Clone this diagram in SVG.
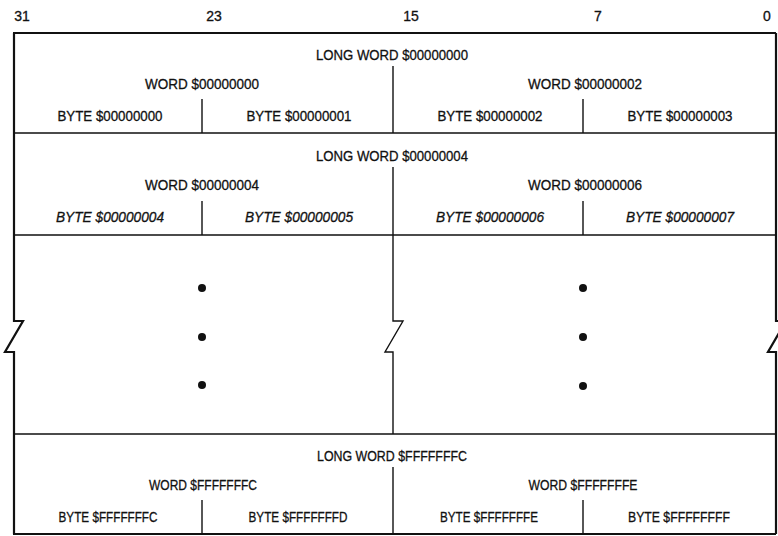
<svg xmlns="http://www.w3.org/2000/svg" width="778" height="536" viewBox="0 0 778 536">
<style>
.t{font-family:"Liberation Sans","Arial",sans-serif;font-size:15px;fill:#111;stroke:#111;stroke-width:0.3;text-anchor:middle}
.i{font-style:italic}
.n{font-family:"Liberation Sans","Arial",sans-serif;font-size:14px;fill:#111;stroke:#111;stroke-width:0.3;text-anchor:middle}
.ln{stroke:#111;stroke-width:1.4;fill:none}
.ob{stroke:#111;stroke-width:2.2;fill:none;stroke-linejoin:miter}
.dot{fill:#111}
</style>
<rect width="778" height="536" fill="#fff"/>
<g id="bit-numbers">
<text class="n" x="22" y="21">31</text>
<text class="n" x="214" y="21">23</text>
<text class="n" x="411" y="21">15</text>
<text class="n" x="598" y="21">7</text>
<text class="n" x="767" y="21">0</text>
</g>
<g id="connectors">
<path class="ob" d="M13,33 H776"/>
<path class="ob" d="M13,534 H776"/>
<path class="ob" d="M14,33 V321 H23 L5,352 H14 V534"/>
<path class="ob" d="M776,33 V321 H786 L768,352 H776 V534"/>
<path class="ln" d="M14,133 H776 M14,235 H776 M14,434 H776"/>
<path class="ln" d="M393,66 V133 M393,167 V321 H403 L385,352 H393 V434 M393,467 V534"/>
<path class="ln" d="M202,99 V133 M583,99 V133 M202,201 V235 M583,201 V235 M202,500 V534 M583,500 V534"/>
</g>
<g id="longword-0"><text class="t" x="392" y="60" textLength="152" lengthAdjust="spacingAndGlyphs">LONG WORD $00000000</text></g>
<g id="word-0"><text class="t" x="202" y="89" textLength="114" lengthAdjust="spacingAndGlyphs">WORD $00000000</text></g>
<g id="word-2"><text class="t" x="585" y="89" textLength="114" lengthAdjust="spacingAndGlyphs">WORD $00000002</text></g>
<g id="byte-0"><text class="t" x="110" y="121" textLength="105" lengthAdjust="spacingAndGlyphs">BYTE $00000000</text></g>
<g id="byte-1"><text class="t" x="299" y="121" textLength="105" lengthAdjust="spacingAndGlyphs">BYTE $00000001</text></g>
<g id="byte-2"><text class="t" x="490" y="121" textLength="105" lengthAdjust="spacingAndGlyphs">BYTE $00000002</text></g>
<g id="byte-3"><text class="t" x="680" y="121" textLength="105" lengthAdjust="spacingAndGlyphs">BYTE $00000003</text></g>
<g id="longword-4"><text class="t" x="392" y="161" textLength="152" lengthAdjust="spacingAndGlyphs">LONG WORD $00000004</text></g>
<g id="word-4"><text class="t" x="202" y="190" textLength="114" lengthAdjust="spacingAndGlyphs">WORD $00000004</text></g>
<g id="word-6"><text class="t" x="585" y="190" textLength="114" lengthAdjust="spacingAndGlyphs">WORD $00000006</text></g>
<g id="byte-4"><text class="t i" x="110" y="222" textLength="108" lengthAdjust="spacingAndGlyphs">BYTE $00000004</text></g>
<g id="byte-5"><text class="t i" x="299" y="222" textLength="108" lengthAdjust="spacingAndGlyphs">BYTE $00000005</text></g>
<g id="byte-6"><text class="t i" x="490" y="222" textLength="108" lengthAdjust="spacingAndGlyphs">BYTE $00000006</text></g>
<g id="byte-7"><text class="t i" x="680" y="222" textLength="108" lengthAdjust="spacingAndGlyphs">BYTE $00000007</text></g>
<g id="ellipsis">
<circle class="dot" cx="202" cy="288" r="4"/><circle class="dot" cx="202" cy="337" r="4"/><circle class="dot" cx="202" cy="385" r="4"/>
<circle class="dot" cx="583" cy="288" r="4"/><circle class="dot" cx="583" cy="337" r="4"/><circle class="dot" cx="583" cy="386" r="4"/>
</g>
<g id="longword-fffffffc"><text class="t" x="392" y="461" textLength="150" lengthAdjust="spacingAndGlyphs">LONG WORD $FFFFFFFC</text></g>
<g id="word-fffffffc"><text class="t" x="203" y="490" textLength="108" lengthAdjust="spacingAndGlyphs">WORD $FFFFFFFC</text></g>
<g id="word-fffffffe"><text class="t" x="583" y="490" textLength="109" lengthAdjust="spacingAndGlyphs">WORD $FFFFFFFE</text></g>
<g id="byte-fffffffc"><text class="t" x="108" y="522" textLength="99" lengthAdjust="spacingAndGlyphs">BYTE $FFFFFFFC</text></g>
<g id="byte-fffffffd"><text class="t" x="298" y="522" textLength="99" lengthAdjust="spacingAndGlyphs">BYTE $FFFFFFFD</text></g>
<g id="byte-fffffffe"><text class="t" x="489" y="522" textLength="98" lengthAdjust="spacingAndGlyphs">BYTE $FFFFFFFE</text></g>
<g id="byte-ffffffff"><text class="t" x="679" y="522" textLength="102" lengthAdjust="spacingAndGlyphs">BYTE $FFFFFFFF</text></g>
</svg>
